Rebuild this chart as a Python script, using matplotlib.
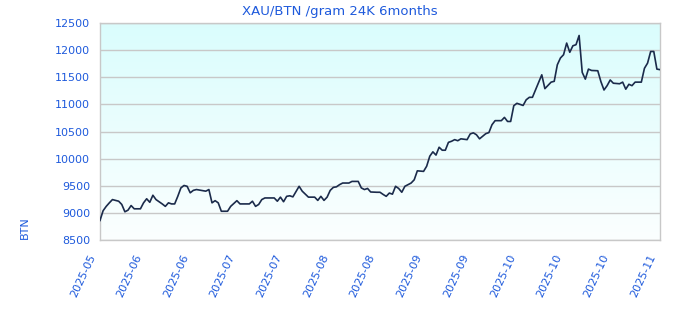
import matplotlib
matplotlib.use("Agg")
import matplotlib.pyplot as plt
import matplotlib.dates as mdates
import matplotlib.transforms as mtransforms
import numpy as np
import pandas as pd

# ---- data ----
start_date = "2025-05-19"
day_offsets = [0, 1, 2, 3, 4, 5, 6, 7, 8, 9, 10, 11, 13, 14, 15, 16, 17, 18, 20, 21,
               22, 23, 24, 25, 26, 27, 28, 29, 30, 31, 34, 35, 36, 37, 38, 39, 41, 42, 44, 45,
               48, 49, 50, 51, 52, 53, 56, 57, 58, 59, 60, 61, 62, 64, 65, 67, 69, 70, 71, 72,
               73, 74, 75, 76, 77, 78, 80, 81, 83, 84, 85, 86, 87, 89, 90, 91, 92, 93, 94, 95,
               96, 97, 98, 100, 101, 102, 104, 105, 106, 107, 108, 109, 110, 111, 112, 113, 114, 115, 116, 118,
               119, 120, 121, 122, 124, 125, 126, 127, 129, 130, 131, 132, 133, 134, 136, 137, 138, 139, 140, 141,
               142, 143, 144, 145, 146, 147, 148, 149, 150, 151, 152, 153, 154, 155, 156, 157, 158, 160, 161, 162,
               163, 164, 165, 167, 168, 169, 170, 171, 172, 174, 175, 176, 177, 178, 179, 180]
prices = [8860, 9040, 9120, 9185, 9245, 9230, 9215, 9155, 9020, 9050, 9135, 9075, 9075, 9185, 9260, 9195, 9325, 9245, 9165, 9120,
          9185, 9165, 9165, 9305, 9460, 9505, 9490, 9370, 9415, 9430, 9400, 9430, 9185, 9225, 9185, 9030, 9030, 9120, 9225, 9165,
          9165, 9215, 9120, 9155, 9245, 9275, 9275, 9215, 9290, 9205, 9305, 9315, 9295, 9490, 9400, 9290, 9290, 9230, 9305, 9230,
          9290, 9415, 9470, 9480, 9520, 9550, 9550, 9580, 9580, 9460, 9430, 9450, 9385, 9380, 9380, 9340, 9305, 9365, 9345, 9490,
          9450, 9380, 9490, 9550, 9610, 9775, 9765, 9860, 10045, 10125, 10065, 10210, 10155, 10155, 10300, 10320, 10350, 10330, 10365, 10350,
          10455, 10475, 10440, 10365, 10460, 10480, 10625, 10700, 10700, 10760, 10685, 10685, 10975, 11020, 10980, 11085, 11130, 11130, 11270, 11410,
          11545, 11290, 11350, 11410, 11425, 11730, 11855, 11915, 12130, 11960, 12080, 12100, 12270, 11590, 11465, 11650, 11625, 11620, 11420, 11265,
          11345, 11450, 11390, 11380, 11410, 11280, 11370, 11345, 11410, 11410, 11665, 11760, 11975, 11975, 11650, 11640]
y_ticks = [8500, 9000, 9500, 10000, 10500, 11000, 11500, 12000, 12500]
n_xticks = 13
title = "XAU/BTN /gram 24K 6months"
y_label = "BTN"

# ---- style ----
W, H, DPI = 680, 320, 100
text_color = "#1e5adc"
line_color = "#1b2b4b"
grid_color = "#c8c8c8"

fig = plt.figure(figsize=(W / DPI, H / DPI), dpi=DPI)
ax = fig.add_axes([100 / W, 1 - 240 / H, 560 / W, 217 / H])

dates = pd.to_datetime(start_date) + pd.to_timedelta(day_offsets, unit="D")
ax.plot(dates, prices, color=line_color, lw=1.2, zorder=3)

x0, x1 = dates[0], dates[-1]
ax.set_xlim(x0, x1)
ax.set_ylim(y_ticks[0], y_ticks[-1])

# gradient background
grad = np.linspace(0, 1, 256).reshape(-1, 1)
top = np.array([0.855, 0.992, 0.992])
bot = np.array([0.985, 1.0, 1.0])
img = bot + (top - bot) * grad[..., None] * np.ones((1, 1, 3))
img = img[:, :, :]
ax.imshow(img, extent=[mdates.date2num(x0), mdates.date2num(x1), y_ticks[0], y_ticks[-1]],
          origin="lower", aspect="auto", zorder=0)

ax.set_yticks(y_ticks)
ax.set_yticklabels([str(v) for v in y_ticks])
xt = pd.date_range(x0, x1, periods=n_xticks)
ax.set_xticks(xt)
ax.set_xticklabels([d.strftime("%Y-%m") for d in xt])

ax.yaxis.grid(True, color=grid_color, lw=1, zorder=1)
ax.xaxis.grid(False)
ax.set_axisbelow(False)
for s in ax.spines.values():
    s.set_color(grid_color)
    s.set_linewidth(1)
ax.tick_params(axis="both", length=0, colors=text_color, labelsize=8)
ax.tick_params(axis="y", pad=7)
ax.tick_params(axis="x", pad=9)

offset = mtransforms.ScaledTranslation(-3 / DPI, 0, fig.dpi_scale_trans)
for lab in ax.get_xticklabels():
    lab.set_rotation(65)
    lab.set_ha("right")
    lab.set_va("top")
    lab.set_transform(lab.get_transform() + offset)

fig.text(0.5, 1 - 11 / H, title, ha="center", va="center", color=text_color, fontsize=9.5)
fig.text(25 / W, 1 - 228 / H, y_label, ha="center", va="center", rotation=90,
         color=text_color, fontsize=8)

fig.savefig("out.png", dpi=DPI, facecolor="white")
